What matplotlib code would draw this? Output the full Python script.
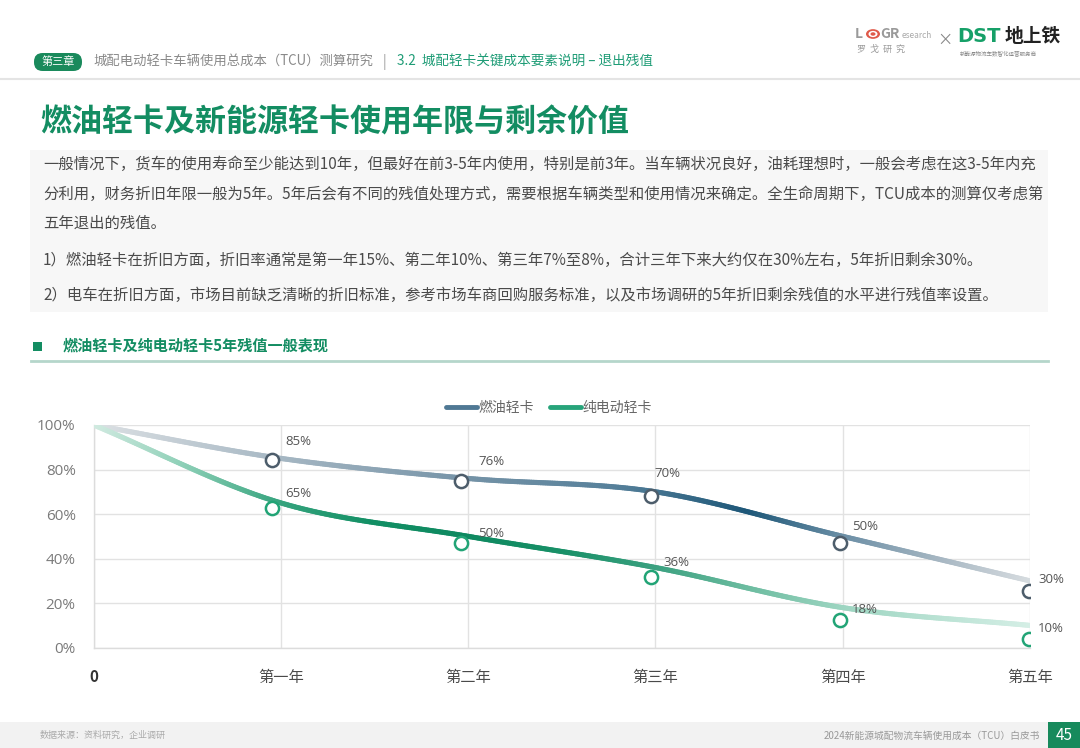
import numpy as np
import matplotlib
matplotlib.use('Agg')
import matplotlib.pyplot as plt
from matplotlib.collections import LineCollection
from matplotlib.colors import to_rgb
from matplotlib.patches import FancyBboxPatch, Rectangle, Circle
from matplotlib.lines import Line2D

plt.rcParams['font.family'] = ['Noto Sans CJK SC', 'DejaVu Sans']

# ---------------- data ----------------
years = ['0', '第一年', '第二年', '第三年', '第四年', '第五年']
fuel = [100, 85, 76, 70, 50, 30]
ev = [100, 65, 50, 36, 18, 10]
series_names = ['燃油轻卡', '纯电动轻卡']
yticks = [0, 20, 40, 60, 80, 100]

# ---------------- layout / style ----------------
W, H = 1080, 748
fig = plt.figure(figsize=(10.8, 7.48), dpi=100)
fig.patch.set_facecolor('white')


def fx(x):
    return x / W


def fy(y):
    return 1 - y / H


GREEN = '#138d62'
TEXT = '#4a4a4a'

# header pill
pill = FancyBboxPatch((fx(34), fy(71)), fx(48), 18 / H,
                      boxstyle='round,pad=0,rounding_size=0.008',
                      transform=fig.transFigure, facecolor='#1a8a5c',
                      edgecolor='none', mutation_aspect=W / H)
fig.patches.append(pill)
fig.text(fx(58), fy(62), '第三章', color='white', fontsize=8, ha='center', va='center')
fig.text(fx(93), fy(62), '城配电动轻卡车辆使用总成本（TCU）测算研究', color='#8a8a8a',
         fontsize=9.6, ha='left', va='center')
fig.text(fx(384), fy(62), '|', color='#9a9a9a', fontsize=9.6, ha='center', va='center')
fig.text(fx(397), fy(62), '3.2  城配轻卡关键成本要素说明 – 退出残值', color='#1e9c76',
         fontsize=9.8, ha='left', va='center')
fig.add_artist(Line2D([0, 1], [fy(79), fy(79)], color='#e4e4e4', lw=1.5,
                      transform=fig.transFigure))

# logos
fig.text(fx(855), fy(34), 'L', color='#9a9a9a', fontsize=10, fontweight='bold', ha='left', va='center')
for r, c in [(7, '#e05a4a'), (4.5, 'white'), (2.5, '#e05a4a')]:
    fig.patches.append(Circle((fx(873), fy(34)), r / W, transform=fig.transFigure,
                              facecolor=c, edgecolor='none'))
fig.text(fx(880), fy(34), 'GR', color='#9a9a9a', fontsize=10, fontweight='bold', ha='left', va='center')
fig.text(fx(902), fy(35), 'esearch', color='#aaaaaa', fontsize=6, ha='left', va='center')
fig.text(fx(857), fy(49), '罗  戈  研  究', color='#9a9a9a', fontsize=6.5, ha='left', va='center')
fig.text(fx(945), fy(40), '×', color='#888888', fontsize=11, ha='center', va='center')
fig.text(fx(957), fy(36), 'DST', color='#16a068', fontsize=14, fontweight='bold',
         ha='left', va='center', family=['DejaVu Sans'])
fig.text(fx(1005), fy(36), '地上铁', color='#222222', fontsize=13.5, fontweight='bold', ha='left', va='center')
fig.text(fx(960), fy(53), '新能源物流车数智化运营服务商', color='#888888', fontsize=4, ha='left', va='center')

# title
fig.text(fx(40), fy(122), '燃油轻卡及新能源轻卡使用年限与剩余价值', color=GREEN,
         fontsize=22.3, fontweight='bold', ha='left', va='center')

# body text block
fig.patches.append(Rectangle((fx(30), fy(312)), fx(1018), 162 / H, transform=fig.transFigure,
                             facecolor='#f7f7f7', edgecolor='none'))
body_lines = [
    ('一般情况下，货车的使用寿命至少能达到10年，但最好在前3-5年内使用，特别是前3年。当车辆状况良好，油耗理想时，一般会考虑在这3-5年内充', 164),
    ('分利用，财务折旧年限一般为5年。5年后会有不同的残值处理方式，需要根据车辆类型和使用情况来确定。全生命周期下，TCU成本的测算仅考虑第', 194),
    ('五年退出的残值。', 223),
    ('1）燃油轻卡在折旧方面，折旧率通常是第一年15%、第二年10%、第三年7%至8%，合计三年下来大约仅在30%左右，5年折旧剩余30%。', 260),
    ('2）电车在折旧方面，市场目前缺乏清晰的折旧标准，参考市场车商回购服务标准，以及市场调研的5年折旧剩余残值的水平进行残值率设置。', 295),
]
for txt, yy in body_lines:
    fig.text(fx(43), fy(yy), txt, color=TEXT, fontsize=11.05, ha='left', va='center')

# section heading
fig.patches.append(Rectangle((fx(33), fy(351)), fx(9), 9 / H, transform=fig.transFigure,
                             facecolor=GREEN, edgecolor='none'))
fig.text(fx(63), fy(346), '燃油轻卡及纯电动轻卡5年残值一般表现', color=GREEN,
         fontsize=10.9, fontweight='bold', ha='left', va='center')
fig.add_artist(Line2D([fx(31), fx(1048)], [fy(361), fy(361)], color='#b5d6cb', lw=2,
                      transform=fig.transFigure))

# footer
fig.patches.append(Rectangle((0, 0), 1, 26 / H, transform=fig.transFigure,
                             facecolor='#f2f2f2', edgecolor='none'))
fig.patches.append(Rectangle((fx(1048), 0), fx(32), 26 / H, transform=fig.transFigure,
                             facecolor='#178a5c', edgecolor='none'))
fig.text(fx(1064), fy(735), '45', color='white', fontsize=11, ha='center', va='center')
fig.text(fx(40), fy(735), '数据来源：资料研究，企业调研', color='#aaaaaa', fontsize=6.5,
         ha='left', va='center')
fig.text(fx(1040), fy(736), '2024新能源城配物流车辆使用成本（TCU）白皮书', color='#999999',
         fontsize=7, ha='right', va='center')

# ---------------- chart ----------------
ax_l, ax_r, ax_t, ax_b = 93.7, 1030, 425, 647.7
rect = [fx(ax_l), fy(ax_b), fx(ax_r - ax_l), (ax_b - ax_t) / H]
ax = fig.add_axes(rect)
xpos = np.arange(len(years))
ax.set_xlim(0, len(years) - 1)
ax.set_ylim(0, 100)
ax.set_yticks(yticks)
ax.set_yticklabels([f'{v}%' for v in yticks], family=['Open Sans', 'Noto Sans CJK SC'])
ax.set_xticks(xpos)
ax.set_xticklabels(years)
for i, lab in enumerate(ax.get_xticklabels()):
    lab.set_fontweight('bold' if i == 0 else 'medium')
    lab.set_color('#333333' if i == 0 else '#4a4a4a')
ax.tick_params(axis='y', length=0, pad=13, labelsize=11, labelcolor='#7a7a7a')
ax.tick_params(axis='x', length=0, pad=15, labelsize=11)
ax.grid(True, color='#e2e2e2', lw=1)
ax.set_axisbelow(True)
for s in ['top', 'right']:
    ax.spines[s].set_visible(False)
for s in ['left', 'bottom']:
    ax.spines[s].set_color('#dcdcdc')
    ax.spines[s].set_linewidth(1)


def catmull(xs, ys, n=80):
    xs = np.asarray(xs, float)
    ys = np.asarray(ys, float)
    P = np.concatenate([[2 * ys[0] - ys[1]], ys, [2 * ys[-1] - ys[-2]]])
    ox, oy = [], []
    for i in range(len(ys) - 1):
        t = np.linspace(0, 1, n, endpoint=False)
        p0, p1 = P[i + 1], P[i + 2]
        m0 = (P[i + 2] - P[i]) / 2
        m1 = (P[i + 3] - P[i + 1]) / 2
        h00 = 2 * t**3 - 3 * t**2 + 1
        h10 = t**3 - 2 * t**2 + t
        h01 = -2 * t**3 + 3 * t**2
        h11 = t**3 - t**2
        oy.append(h00 * p0 + h10 * m0 + h01 * p1 + h11 * m1)
        ox.append(xs[i] + t * (xs[i + 1] - xs[i]))
    ox.append([xs[-1]])
    oy.append([ys[-1]])
    return np.concatenate(ox), np.concatenate(oy)


grad_fuel = [(0, '#dde1e4'), (1, '#a6b7c3'), (2, '#7593a7'), (2.8, '#56809a'),
             (3.5, '#1d5778'), (4, '#6a8ea5'), (4.5, '#a4b5c1'), (5, '#d6dbdf')]
grad_ev = [(0, '#d3ebe2'), (0.5, '#8ccfb6'), (1, '#36a47e'), (1.5, '#128f64'),
           (2, '#0e8960'), (2.5, '#189067'), (3, '#3aa07f'), (3.5, '#6cbca0'),
           (4, '#9dd5c1'), (5, '#d4eee5')]


def gradient_line(axis, xs, ys, stops, lw=3.7):
    sx, sy = catmull(xs, ys)
    pts = np.column_stack([sx, sy]).reshape(-1, 1, 2)
    segs = np.concatenate([pts[:-1], pts[1:]], axis=1)
    mids = (sx[:-1] + sx[1:]) / 2
    spos = [s[0] for s in stops]
    cols = np.array([to_rgb(s[1]) for s in stops])
    c = np.column_stack([np.interp(mids, spos, cols[:, k]) for k in range(3)])
    lc = LineCollection(segs, colors=c, linewidths=lw, capstyle='round', joinstyle='round', zorder=3)
    axis.add_collection(lc)


gradient_line(ax, xpos, fuel, grad_fuel)
gradient_line(ax, xpos, ev, grad_ev)

# markers (drawn on an overlay axes, as in the source chart where they sit slightly off the line)
ax2 = fig.add_axes(rect, frameon=False)
ax2.set_xlim(0.057, 5.005)
ax2.set_ylim(6.3, 99.6)
ax2.axis('off')
ax2.plot(xpos[1:], fuel[1:], 'o', ms=9.5, mfc='white', mec='#4d5d6b', mew=1.8, ls='none', zorder=4)
ax2.plot(xpos[1:], ev[1:], 'o', ms=9.5, mfc='white', mec='#22a476', mew=1.8, ls='none', zorder=4)

# data labels
fuel_off = [(4, 17), (10, 17), (-1, 18), (9, 10), (8, 1.5)]
ev_off = [(4, 9), (10, 3), (8, 5), (9, -1.5), (8, -3)]
for vals, offs in [(fuel, fuel_off), (ev, ev_off)]:
    for i, (v, o) in enumerate(zip(vals[1:], offs)):
        ax2.annotate(f'{v}%', xy=(xpos[i + 1], v), xycoords=ax.transData,
                     xytext=o, textcoords='offset pixels', ha='left', va='center',
                     fontsize=9.5, color='#555555', family=['Open Sans', 'Noto Sans CJK SC'],
                     zorder=5, annotation_clip=False)

# legend
handles = [Line2D([], [], color='#4f7894', lw=3.5, solid_capstyle='round'),
           Line2D([], [], color='#27a47a', lw=3.5, solid_capstyle='round')]
ax.legend(handles, series_names, loc='center', bbox_to_anchor=(fx(549), fy(408)),
          bbox_transform=fig.transFigure, ncol=2, frameon=False, fontsize=10,
          labelcolor='#666666', handlelength=2.2, handletextpad=0.1, columnspacing=1.2)

fig.savefig('out.png', dpi=100)
